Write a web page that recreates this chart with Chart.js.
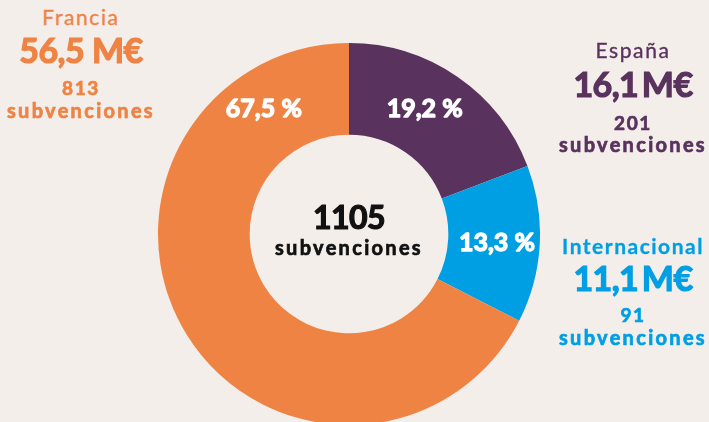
<!DOCTYPE html>
<html>
<head>
<meta charset="utf-8">
<script src="https://cdn.jsdelivr.net/npm/chart.js@4.4.1/dist/chart.umd.min.js"></script>
<style>
  html, body { margin:0; padding:0; width:709px; height:422px; overflow:hidden; background:#f3eeea; font-family: Lato, "Open Sans", sans-serif; }
  #wrap { position:absolute; left:158px; top:43px; width:382px; height:382px; }
  .blk { position:absolute; text-align:center; line-height:1; }
  .blk div, #center div { white-space:nowrap; }
  .name { font-size:21px; font-weight:400; letter-spacing:1.6px; -webkit-text-stroke:0.35px currentColor; }
  .name.b { font-weight:700; letter-spacing:1.5px; -webkit-text-stroke:0.3px currentColor; }
  .amt { font-size:34px; font-weight:700; letter-spacing:-0.6px; -webkit-text-stroke:1.2px currentColor; }
  .cnt { font-size:19px; font-weight:700; letter-spacing:1.6px; -webkit-text-stroke:0.7px currentColor; }
  .sub { font-size:20px; font-weight:700; letter-spacing:2.3px; -webkit-text-stroke:0.7px currentColor; }
  #center { position:absolute; left:249px; width:200px; text-align:center; color:#111; }
</style>
</head>
<body>
<div id="wrap"><canvas id="c" width="382" height="382"></canvas></div>

<div class="blk" id="b0" style="left:533px; width:200px; top:0;"></div>
<div class="blk" id="b1" style="left:533px; width:200px; top:0;"></div>
<div class="blk" id="b2" style="left:-20px; width:202px; top:0;"></div>
<div id="center"></div>

<script>
const categories = ["España", "Internacional", "Francia"];
const shares = [19.2, 13.3, 67.5];
const amounts = ["16,1\u2009M€", "11,1\u2009M€", "56,5\u202FM€"];
const grants = [201, 91, 813];
const totalGrants = 1105;
const colors = ["#59325e", "#009fe3", "#ef8344"];

const fmtPct = v => v.toFixed(1).replace(".", ",") + "\u202F%";

const blockLayout = {
  0: { name: 39, amt: 67, cnt: 113, sub: 134, bold: false },
  1: { name: 235, amt: 261, cnt: 305, sub: 327, bold: true },
  2: { name: 6, amt: 33, cnt: 78, sub: 100, bold: false }
};
categories.forEach((cat, i) => {
  const el = document.getElementById("b" + i);
  const L = blockLayout[i];
  const c = colors[i];
  el.innerHTML =
    `<div class="name${L.bold ? " b" : ""}" style="position:absolute;left:0;right:0;top:${L.name}px;color:${c}">${cat}</div>` +
    `<div class="amt" style="position:absolute;left:0;right:0;top:${L.amt}px;color:${c}">${amounts[i]}</div>` +
    `<div class="cnt" style="position:absolute;left:0;right:0;top:${L.cnt}px;color:${c}">${grants[i]}</div>` +
    `<div class="sub" style="position:absolute;left:0;right:0;top:${L.sub}px;color:${c}">subvenciones</div>`;
});
document.getElementById("center").innerHTML =
  `<div class="amt" style="position:absolute;left:0;right:0;top:197px;font-size:32px;letter-spacing:-0.5px;">${totalGrants}</div>` +
  `<div class="sub" style="position:absolute;left:0;right:0;top:235px;">subvenciones</div>`;

const pctLabels = {
  id: "pctLabels",
  afterDatasetsDraw(chart, args, opts) {
    const ctx = chart.ctx;
    const meta = chart.getDatasetMeta(0);
    ctx.save();
    ctx.fillStyle = "#ffffff";
    ctx.strokeStyle = "#ffffff";
    ctx.lineWidth = 1.3;
    ctx.lineJoin = "round";
    ctx.font = "bold 25px Lato";
    ctx.textAlign = "center";
    ctx.textBaseline = "middle";
    meta.data.forEach((arc, i) => {
      const p = arc.getProps(["x", "y", "startAngle", "endAngle", "innerRadius", "outerRadius"], true);
      let ang = (p.startAngle + p.endAngle) / 2;
      if (opts.angleOverride && opts.angleOverride[i] != null) ang = opts.angleOverride[i] * Math.PI / 180 - Math.PI / 2;
      const r = (p.innerRadius + p.outerRadius) / 2 + (opts.radiusExtra ? opts.radiusExtra[i] : 0);
      const tx = p.x + Math.cos(ang) * r, ty = p.y + Math.sin(ang) * r + 1;
      ctx.strokeText(fmtPct(shares[i]), tx, ty);
      ctx.fillText(fmtPct(shares[i]), tx, ty);
    });
    ctx.restore();
  }
};

new Chart(document.getElementById("c"), {
  type: "doughnut",
  data: {
    labels: categories,
    datasets: [{ data: shares, backgroundColor: colors, borderWidth: 0, hoverOffset: 0 }]
  },
  options: {
    responsive: false,
    animation: false,
    cutout: "52%",
    layout: { padding: 0 },
    plugins: {
      legend: { display: false },
      tooltip: { enabled: false },
      pctLabels: { angleOverride: [31, null, -34], radiusExtra: [2, 3, 7] }
    }
  },
  plugins: [pctLabels]
});
</script>
</body>
</html>
